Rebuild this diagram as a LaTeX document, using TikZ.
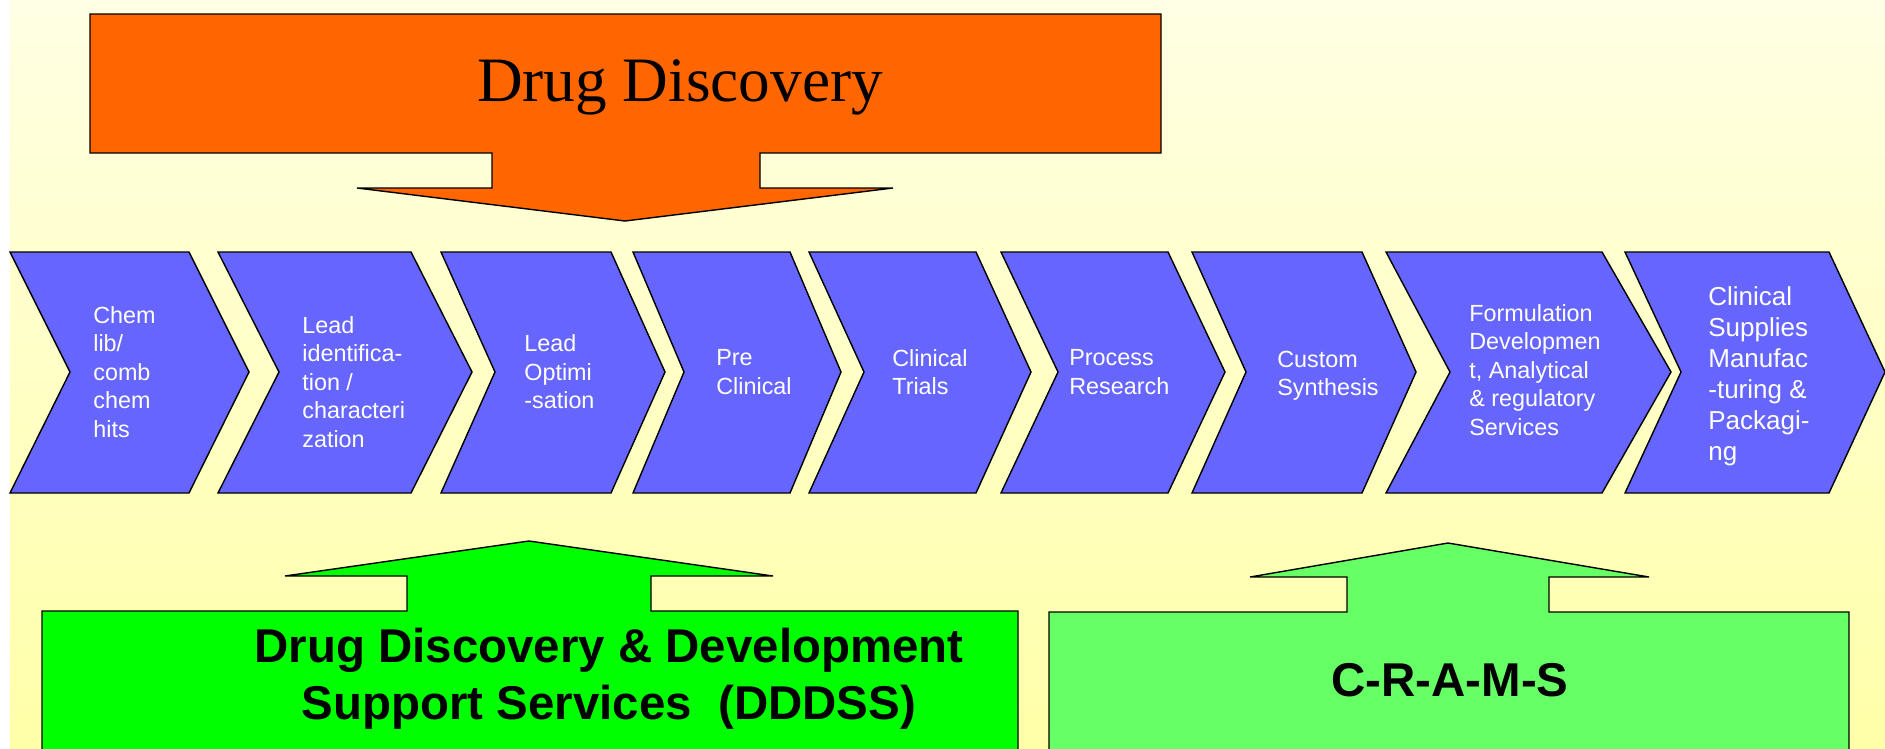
\documentclass[tikz,border=0pt]{standalone}
\usepackage{fontspec}
\setmainfont{Liberation Serif}
\setsansfont{Liberation Sans}
\definecolor{chevblue}{HTML}{6666FF}
\definecolor{ddorange}{HTML}{FF6600}
\definecolor{ddgreen}{HTML}{00FF00}
\definecolor{cramsgreen}{HTML}{66FF66}
\definecolor{bgtop}{HTML}{FFFFE4}
\definecolor{bgbottom}{HTML}{FFFFA8}
\tikzset{
    chevron/.style = {fill=chevblue, draw=black, line width=0.8pt, line join=miter},
    callout/.style = {draw=black, line width=0.8pt},
    stagetext/.style = {anchor=west, inner sep=0pt, align=left, text=white,
        font=\sffamily\fontsize{13.3}{16.2}\selectfont},
    boxtext/.style = {inner sep=0pt, align=center,
        font=\sffamily\bfseries\fontsize{27}{32.3}\selectfont}
}
\begin{document}
\begin{tikzpicture}[x=0.02cm, y=-0.02cm]
            \useasboundingbox (0,0) rectangle (1885,748);
            \fill[white] (0,0) rectangle (1885,748);
            \shade[top color=bgtop, bottom color=bgbottom] (10,0) rectangle (1885,748);

            % top call-out
            \filldraw[callout, fill=ddorange] (90,14) -- (1161,14) -- (1161,153) -- (760,153) -- (760,188) -- (893,188)
                -- (625,221) -- (357,188) -- (492,188) -- (492,153) -- (90,153) -- cycle;
            \node[anchor=base, inner sep=0pt, font=\fontsize{36}{40}\selectfont] (discovery) at (680,101) {Drug Discovery};

            % value chain
            \filldraw[chevron] (10,252) -- (189,252) -- (249,372) -- (189,493) -- (10,493) -- (70,372) -- cycle;
            \filldraw[chevron] (218,252) -- (411,252) -- (472,372) -- (411,493) -- (218,493) -- (279,372) -- cycle;
            \filldraw[chevron] (441,252) -- (611,252) -- (665,372) -- (611,493) -- (441,493) -- (495,372) -- cycle;
            \filldraw[chevron] (633,252) -- (790,252) -- (841,372) -- (790,493) -- (633,493) -- (684,372) -- cycle;
            \filldraw[chevron] (809,252) -- (976,252) -- (1031,372) -- (976,493) -- (809,493) -- (864,372) -- cycle;
            \filldraw[chevron] (1001,252) -- (1168,252) -- (1225,372) -- (1168,493) -- (1001,493) -- (1058,372) -- cycle;
            \filldraw[chevron] (1192,252) -- (1362,252) -- (1416,372) -- (1362,493) -- (1192,493) -- (1246,372) -- cycle;
            \filldraw[chevron] (1386,252) -- (1602,252) -- (1671,372) -- (1602,493) -- (1386,493) -- (1450,372) -- cycle;
            \filldraw[chevron] (1625,252) -- (1829,252) -- (1885,372) -- (1829,493) -- (1625,493) -- (1681,372) -- cycle;

            \node[stagetext] (chemlib) at (93,372) {Chem\\lib/\\comb\\chem\\hits};
            \node[stagetext] (leadid) at (302,382) {Lead\\identifica-\\tion /\\characteri\\zation};
            \node[stagetext] (leadopt) at (524,372) {Lead\\Optimi\\-sation};
            \node[stagetext] (preclin) at (716,372) {Pre\\Clinical};
            \node[stagetext] (clintrials) at (892,372) {Clinical\\Trials};
            \node[stagetext] (process) at (1069,372) {Process\\Research};
            \node[stagetext] (synthesis) at (1277,376) {Custom\\Synthesis};
            \node[stagetext] (formulation) at (1469,370) {Formulation\\Developmen\\t, Analytical\\\& regulatory\\Services};
            \node[stagetext, font=\sffamily\fontsize{14.8}{17.6}\selectfont] (supplies) at (1708,376)
                {Clinical\\Supplies\\Manufac\\-turing \&\\Packagi-\\ng};

            % bottom call-outs
            \filldraw[callout, fill=ddgreen] (42,752) -- (42,611) -- (407,611) -- (407,576) -- (285,576) -- (529,541)
                -- (773,576) -- (651,576) -- (651,611) -- (1018,611) -- (1018,752) -- cycle;
            \filldraw[callout, fill=cramsgreen] (1049,752) -- (1049,612) -- (1347,612) -- (1347,577) -- (1250,577) -- (1448,543)
                -- (1649,577) -- (1549,577) -- (1549,612) -- (1849,612) -- (1849,752) -- cycle;
            \node[boxtext, anchor=north] (dddss) at (609,628) {Drug Discovery \& Development\\Support Services\ \ (DDDSS)};
            \node[boxtext, anchor=base] (crams) at (1450,696) {C-R-A-M-S};
        \end{tikzpicture}
\end{document}
